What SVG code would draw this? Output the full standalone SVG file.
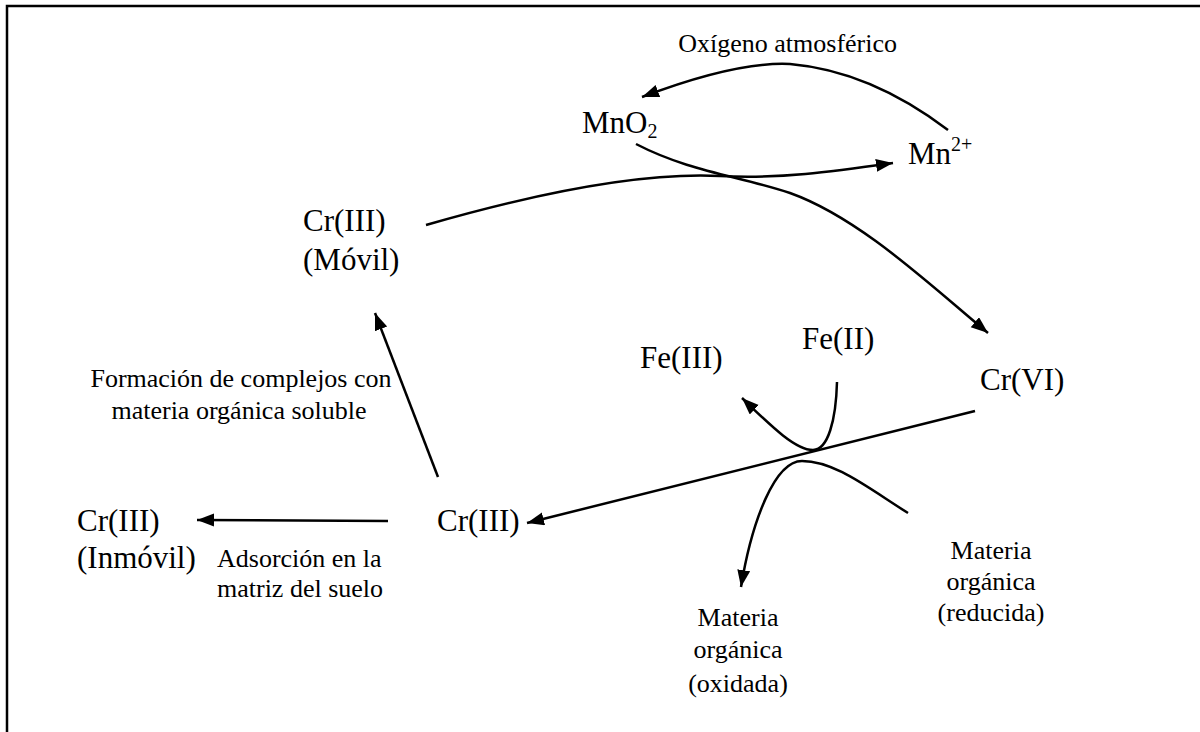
<svg xmlns="http://www.w3.org/2000/svg" width="1200" height="732" viewBox="0 0 1200 732">
<style>
text{font-family:"Liberation Serif","Times New Roman",serif;fill:#000}
.big{font-size:31px}
.sm{font-size:26px}
.sub{font-size:20px}
.c{stroke:#000;stroke-width:2.5;fill:none}
.frame{stroke:#000;stroke-width:2.5;fill:none}
</style>
<defs>
<marker id="ah" markerUnits="userSpaceOnUse" markerWidth="18" markerHeight="14" refX="17" refY="6.5" orient="auto">
<path d="M0,0 L17,6.5 L0,13 z" fill="#000"/>
</marker>
</defs>
<path class="frame" d="M7,732 L7,6 L1200,6"/>
<g id="connectors">
<path class="c" d="M948,130 C915,105 860,70 790,64 C750,62 700,75 642,97" marker-end="url(#ah)"/>
<path class="c" d="M426,225 C530,195 640,172 720,176 C780,179 830,172 893,163" marker-end="url(#ah)"/>
<path class="c" d="M636,144 C690,172 740,176 790,193 C860,218 930,285 988,333" marker-end="url(#ah)"/>
<path class="c" d="M975,411 L527,523" marker-end="url(#ah)"/>
<path class="c" d="M837,382 C836,420 828,450 813,450 C795,450 770,425 742,398" marker-end="url(#ah)"/>
<path class="c" d="M908,513 C868,488 835,461 802,461 C775,461 752,520 741,587" marker-end="url(#ah)"/>
<path class="c" d="M388,521 L197,520" marker-end="url(#ah)"/>
<path class="c" d="M438,477 L375,313" marker-end="url(#ah)"/>
</g>
<g id="oxigeno"><text class="sm" x="897" y="52" text-anchor="end">Oxígeno atmosférico</text></g>
<g id="mno2"><text class="big" x="582" y="133">MnO<tspan class="sub" dy="5">2</tspan></text></g>
<g id="mn2"><text class="big" x="908" y="164">Mn<tspan class="sub" dy="-13">2+</tspan></text></g>
<g id="cr3movil"><text class="big" x="303" y="231">Cr(III)</text><text class="big" x="303" y="270">(Móvil)</text></g>
<g id="cr6"><text class="big" x="980" y="390">Cr(VI)</text></g>
<g id="fe2"><text class="big" x="802" y="349">Fe(II)</text></g>
<g id="fe3"><text class="big" x="640" y="368">Fe(III)</text></g>
<g id="formacion"><text class="sm" x="241" y="387" text-anchor="middle">Formación de complejos con</text><text class="sm" x="239" y="419" text-anchor="middle">materia orgánica soluble</text></g>
<g id="cr3"><text class="big" x="437" y="531">Cr(III)</text></g>
<g id="cr3inmovil"><text class="big" x="77" y="531">Cr(III)</text><text class="big" x="77" y="568">(Inmóvil)</text></g>
<g id="adsorcion"><text class="sm" x="217" y="567">Adsorción en la</text><text class="sm" x="217" y="597">matriz del suelo</text></g>
<g id="mo_red"><text class="sm" x="991" y="559" text-anchor="middle">Materia</text><text class="sm" x="991" y="590" text-anchor="middle">orgánica</text><text class="sm" x="991" y="621" text-anchor="middle">(reducida)</text></g>
<g id="mo_ox"><text class="sm" x="738" y="626" text-anchor="middle">Materia</text><text class="sm" x="738" y="658" text-anchor="middle">orgánica</text><text class="sm" x="738" y="692" text-anchor="middle">(oxidada)</text></g>
</svg>
